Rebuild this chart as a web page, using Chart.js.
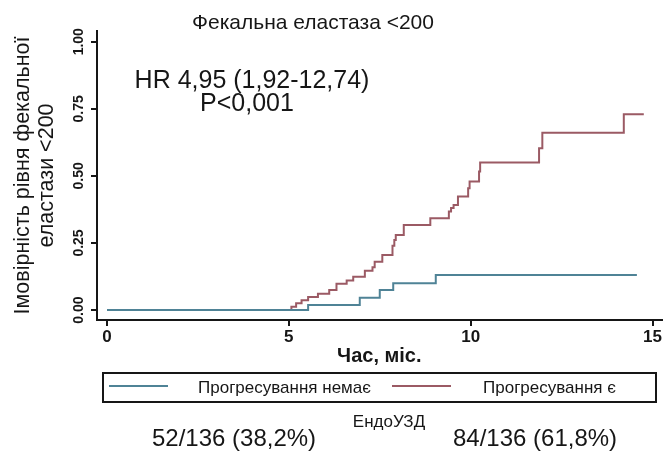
<!DOCTYPE html>
<html>
<head>
<meta charset="utf-8">
<script src="https://cdn.jsdelivr.net/npm/chart.js@4.4.1/dist/chart.umd.min.js"></script>
<style>
  html, body { margin: 0; padding: 0; background: #fff; }
  #wrap { width: 663px; height: 452px; }
</style>
</head>
<body>
<div id="wrap"><canvas id="kmChart" width="663" height="452"></canvas></div>
<script>
const FONT = "'Liberation Sans', Arial, sans-serif";

// texts
const chartTitle = "Фекальна еластаза <200";
const hrLines = ["HR 4,95 (1,92-12,74)", "P<0,001"];
const seriesLabels = ["Прогресування немає", "Прогресування є"];
const groupTitle = "ЕндоУЗД";
const groupCounts = ["52/136 (38,2%)", "84/136 (61,8%)"];
const xTitle = "Час, міс.";
const yTitle = ["Імовірність рівня фекальної", "еластази <200"];

// axis ticks
const xTicks = [0, 5, 10, 15];
const yTicks = [0, 0.25, 0.5, 0.75, 1];

// Kaplan-Meier steps (time in months, cumulative probability)
const noProgTime = [0, 5.53, 6.95, 7.5, 7.87, 9.04, 14.57];
const noProgProb = [0, 0.019, 0.046, 0.075, 0.10, 0.131, 0.131];

const progTime = [0, 5.07, 5.2, 5.35, 5.53, 5.8, 6.11, 6.31, 6.59, 6.77, 7.09, 7.3, 7.36, 7.57,
  7.85, 7.9, 7.94, 8.16, 8.89, 9.4, 9.46, 9.53, 9.65, 9.93, 9.97, 10.23, 10.26, 11.88, 11.97, 14.21, 14.76];
const progProb = [0, 0.012, 0.025, 0.037, 0.049, 0.061, 0.075, 0.098, 0.11, 0.124, 0.147, 0.16, 0.18, 0.205,
  0.24, 0.261, 0.28, 0.317, 0.342, 0.367, 0.38, 0.392, 0.423, 0.454, 0.479, 0.516, 0.55, 0.603, 0.661, 0.73, 0.73];

const colors = ["#4f8396", "#9b5a64"];
const ink = "#161616";

const toPoints = (xs, ys) => xs.map((x, i) => ({ x: x, y: ys[i] }));

const textPlugin = {
  id: "textPlugin",
  afterDraw(chart) {
    const ctx = chart.ctx;
    ctx.save();
    ctx.fillStyle = ink;
    ctx.textBaseline = "alphabetic";

    ctx.textAlign = "center";
    ctx.font = "21px " + FONT;
    ctx.fillText(chartTitle, 313, 29);

    ctx.font = "25px " + FONT;
    ctx.fillText(hrLines[0], 252, 88);
    ctx.fillText(hrLines[1], 247, 111);

    // legend box
    ctx.strokeStyle = ink;
    ctx.lineWidth = 2;
    ctx.strokeRect(103, 373, 553, 29);

    const lineX = [109, 392];
    const textX = [198, 483];
    ctx.font = "17px " + FONT;
    ctx.textAlign = "left";
    chart.data.datasets.forEach((ds, i) => {
      ctx.strokeStyle = ds.borderColor;
      ctx.lineWidth = 2;
      ctx.beginPath();
      ctx.moveTo(lineX[i], 386);
      ctx.lineTo(lineX[i] + 59, 386);
      ctx.stroke();
      ctx.fillText(ds.label, textX[i], 393);
    });

    ctx.textAlign = "center";
    ctx.font = "17px " + FONT;
    ctx.fillText(groupTitle, 389, 427);

    ctx.textAlign = "left";
    ctx.font = "24px " + FONT;
    ctx.fillText(groupCounts[0], 152, 446);
    ctx.fillText(groupCounts[1], 453, 446);
    ctx.restore();
  }
};

const ctx = document.getElementById("kmChart").getContext("2d");

new Chart(ctx, {
  type: "line",
  data: {
    datasets: [
      {
        label: seriesLabels[0],
        data: toPoints(noProgTime, noProgProb),
        borderColor: colors[0],
        borderWidth: 2,
        stepped: "before",
        pointRadius: 0,
        fill: false
      },
      {
        label: seriesLabels[1],
        data: toPoints(progTime, progProb),
        borderColor: colors[1],
        borderWidth: 2,
        stepped: "before",
        pointRadius: 0,
        fill: false
      }
    ]
  },
  options: {
    responsive: false,
    devicePixelRatio: 1,
    animation: false,
    layout: { padding: { left: 0, right: 1, top: 31, bottom: 84 } },
    plugins: {
      legend: { display: false },
      tooltip: { enabled: false },
      title: { display: false }
    },
    scales: {
      x: {
        type: "linear",
        min: -0.275,
        max: 15.25,
        border: { color: ink, width: 2 },
        grid: { drawOnChartArea: false, drawTicks: true, tickLength: 6, color: ink, lineWidth: 2 },
        ticks: {
          color: ink,
          padding: 1,
          font: { family: FONT, size: 17, weight: "bold" },
          callback: (v) => v
        },
        afterBuildTicks: (scale) => {
          scale.ticks = xTicks.map((v) => ({ value: v }));
        },
        title: {
          display: true,
          text: xTitle,
          color: ink,
          font: { family: FONT, size: 20, weight: "bold" },
          padding: { top: 0, bottom: 0 }
        },
        afterFit: (scale) => {
          scale.height = 48;
        }
      },
      y: {
        type: "linear",
        min: -0.037,
        max: 1.04,
        border: { color: ink, width: 2 },
        grid: { drawOnChartArea: false, drawTicks: true, tickLength: 6, color: ink, lineWidth: 2 },
        ticks: {
          color: ink,
          padding: -2,
          minRotation: 90,
          maxRotation: 90,
          crossAlign: "center",
          font: { family: FONT, size: 14, weight: "bold" },
          callback: (v) => Number(v).toFixed(2)
        },
        afterBuildTicks: (scale) => {
          scale.ticks = yTicks.map((v) => ({ value: v }));
        },
        title: {
          display: true,
          text: yTitle,
          color: ink,
          font: { family: FONT, size: 21.5, lineHeight: 1.12 },
          padding: { top: 11, bottom: 0 }
        },
        afterFit: (scale) => {
          scale.width = 97;
        }
      }
    }
  },
  plugins: [textPlugin]
});
</script>
</body>
</html>
